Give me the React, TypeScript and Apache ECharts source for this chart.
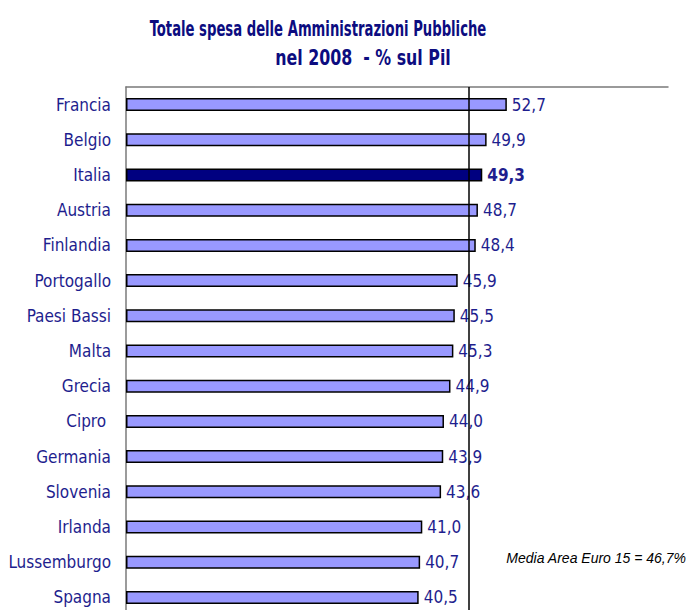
import React, { useEffect, useRef } from "react";
import * as echarts from "echarts";

const countries = [
  "Francia", "Belgio", "Italia", "Austria", "Finlandia", "Portogallo", "Paesi Bassi",
  "Malta", "Grecia", "Cipro ", "Germania", "Slovenia", "Irlanda", "Lussemburgo", "Spagna",
];
const spending = [52.7, 49.9, 49.3, 48.7, 48.4, 45.9, 45.5, 45.3, 44.9, 44.0, 43.9, 43.6, 41.0, 40.7, 40.5];
const highlighted = "Italia";
const euroAverageText = "Media Area Euro 15 = 46,7%";
const averageLinePosition = 47.45; // position of the drawn reference line
const titleLine1 = "Totale spesa delle Amministrazioni Pubbliche";
const titleLine2 = "nel 2008  - % sul Pil";

const NARROW = "'DejaVu Sans Condensed', 'Liberation Sans Narrow', sans-serif";
const LABEL_COLOR = "#1e1e8e";

export default function App() {
  const ref = useRef<HTMLDivElement>(null);
  useEffect(() => {
    if (!ref.current) return;
    const chart = echarts.init(ref.current, undefined, { renderer: "svg" });
    chart.setOption({
      animation: false,
      backgroundColor: "#ffffff",
      graphic: [
        {
          type: "text",
          x: 318,
          y: 28,
          scaleX: 0.667,
          style: {
            text: titleLine1,
            fontFamily: NARROW,
            fontWeight: "bold",
            fontSize: 22,
            fill: "#0c0c80",
            align: "center",
            verticalAlign: "middle",
          },
        },
        {
          type: "text",
          x: 363,
          y: 58,
          scaleX: 0.8,
          style: {
            text: titleLine2,
            fontFamily: NARROW,
            fontWeight: "bold",
            fontSize: 22,
            fill: "#0c0c80",
            align: "center",
            verticalAlign: "middle",
          },
        },
        {
          type: "text",
          x: 686,
          y: 558,
          style: {
            text: euroAverageText,
            fontFamily: "'Liberation Sans', Arial, sans-serif",
            fontStyle: "italic",
            fontSize: 14,
            fill: "#000000",
            align: "right",
            verticalAlign: "middle",
          },
        },
      ],
      grid: { left: 126, top: 87, width: 542, height: 528, containLabel: false, outerBoundsMode: "none" },
      xAxis: {
        type: "value",
        position: "top",
        min: 0,
        max: 75,
        axisLine: { show: true, lineStyle: { color: "#7a7a7a", width: 1.5 } },
        axisTick: { show: false },
        axisLabel: { show: false },
        splitLine: { show: false },
      },
      yAxis: {
        type: "category",
        inverse: true,
        data: countries,
        axisLine: { show: true, lineStyle: { color: "#7a7a7a", width: 1.5 } },
        axisTick: { show: false },
        axisLabel: {
          margin: 15,
          fontFamily: NARROW,
          fontSize: 17,
          color: LABEL_COLOR,
        },
      },
      series: [
        {
          type: "bar",
          barWidth: 13,
          data: spending.map((v, i) => ({
            value: v,
            itemStyle: { color: countries[i] === highlighted ? "#000080" : "#9999ff" },
            label: countries[i] === highlighted ? { fontWeight: "bold" } : undefined,
          })),
          itemStyle: { borderColor: "#000000", borderWidth: 1.5 },
          label: {
            show: true,
            position: "right",
            distance: 5,
            fontFamily: NARROW,
            fontSize: 17,
            color: LABEL_COLOR,
            formatter: (p: any) => p.value.toFixed(1).replace(".", ","),
          },
          markLine: {
            silent: true,
            symbol: "none",
            z: 10,
            label: { show: false },
            lineStyle: { color: "#000000", width: 1.5, type: "solid" },
            data: [{ xAxis: averageLinePosition }],
          },
        },
      ],
    });
    return () => chart.dispose();
  }, []);
  return <div ref={ref} style={{ width: 690, height: 610, position: "absolute", left: 0, top: 0 }} />;
}
